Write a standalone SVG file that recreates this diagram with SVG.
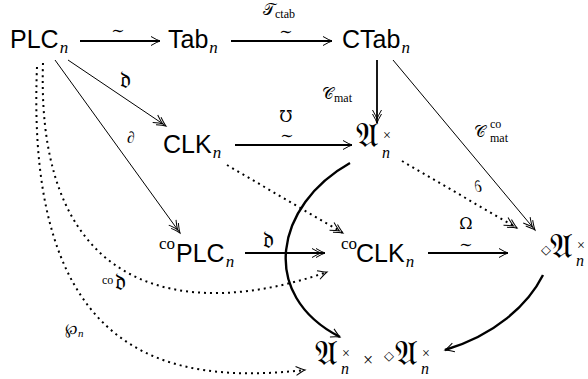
<svg xmlns="http://www.w3.org/2000/svg" width="588" height="379" viewBox="0 0 588 379">
<style>
.nd{font-family:"Liberation Sans","DejaVu Sans",sans-serif;font-size:25px;fill:#000}
.mi{font-family:"Liberation Serif","DejaVu Serif",serif;font-style:italic;fill:#000}
.rm{font-family:"Liberation Serif","DejaVu Serif",serif;fill:#000}
.fk{font-family:"DejaVu Serif","Noto Sans",serif;fill:#000}
.lb{font-family:"DejaVu Serif","Liberation Serif",serif;fill:#000}
.thk{stroke:#000;stroke-width:1.8;fill:none}
.thn{stroke:#000;stroke-width:1;fill:none}
.dot{stroke:#000;stroke-width:2;fill:none;stroke-dasharray:2 4}
.crv{stroke:#000;stroke-width:2.4;fill:none}
</style>
<defs>
<marker id="h1" markerUnits="userSpaceOnUse" orient="auto" refX="0" refY="0" markerWidth="20" markerHeight="20" viewBox="-15 -10 20 20" overflow="visible">
<path d="M-9,-4.5 Q-3,-1 0,0 Q-3,1 -9,4.5" fill="none" stroke="#000" stroke-width="1" stroke-dasharray="none"/>
</marker>
<marker id="h2" markerUnits="userSpaceOnUse" orient="auto" refX="0" refY="0" markerWidth="20" markerHeight="20" viewBox="-15 -10 20 20" overflow="visible">
<path d="M-9,-4.5 Q-3,-1 0,0 Q-3,1 -9,4.5 M-13,-4.5 Q-7,-1 -4,0 Q-7,1 -13,4.5" fill="none" stroke="#000" stroke-width="1" stroke-dasharray="none"/>
</marker>
</defs>

<g id="connectors">
<path class="thk" d="M80,41 H160" marker-end="url(#h1)"/>
<path class="thk" d="M231,41 H332" marker-end="url(#h1)"/>
<path class="thk" d="M377,60 V123" marker-end="url(#h2)"/>
<path class="thn" d="M393,60 L535,230" marker-end="url(#h2)"/>
<path class="thn" d="M68,60 L166,126" marker-end="url(#h2)"/>
<path class="thn" d="M55,60 L180,233" marker-end="url(#h2)"/>
<path class="thk" d="M235,145 H352" marker-end="url(#h1)"/>
<path class="dot" d="M227,165 L343,233" marker-end="url(#h2)"/>
<path class="dot" d="M402,161 L517,228" marker-end="url(#h2)"/>
<path class="thk" d="M245,253 H325" marker-end="url(#h2)"/>
<path class="thk" d="M428,253 H508" marker-end="url(#h1)"/>
<path class="crv" d="M350,163 C275,205 258,295 340,337" marker-end="url(#h1)"/>
<path class="crv" d="M543,275 C528,305 495,335 445,350" marker-end="url(#h1)"/>
<path class="dot" d="M43,63 C35,300 190,320 327,272" marker-end="url(#h1)"/>
<path class="dot" d="M37,67 C25,360 170,385 305,370" marker-end="url(#h1)"/>

<text class="lb" x="118" y="36" font-size="16" text-anchor="middle">∼</text>
<text class="lb" x="263" y="15" font-size="16">𝒯<tspan class="rm" font-size="12" dy="3">ctab</tspan></text>
<text class="lb" x="286" y="37" font-size="16" text-anchor="middle">∼</text>
<text class="lb" x="322" y="99" font-size="16">𝒞<tspan class="rm" font-size="12" dy="3">mat</tspan></text>
<text class="lb" x="474" y="137" font-size="16">𝒞</text>
<text class="rm" x="490" y="128" font-size="12">co</text>
<text class="rm" x="490" y="142" font-size="12">mat</text>
<text class="fk" x="120" y="88" font-size="24">𝔡</text>
<text class="mi" x="127" y="143" font-size="16">∂</text>
<text class="lb" x="286" y="122" font-size="16" text-anchor="middle">℧</text>
<text class="lb" x="287" y="141" font-size="16" text-anchor="middle">∼</text>
<text class="mi" transform="translate(482,192) scale(-1,1)" font-size="16">∂</text>
<text class="fk" x="263" y="248" font-size="24">𝔡</text>
<text class="lb" x="466" y="229" font-size="16" text-anchor="middle">Ω</text>
<text class="lb" x="466" y="250" font-size="16" text-anchor="middle">∼</text>
<text class="rm" x="102" y="284" font-size="12">co<tspan class="fk" font-size="24" dx="2" dy="6">𝔡</tspan></text>
<text class="lb" x="65" y="334" font-size="15">℘<tspan class="mi" font-size="11" dy="3">n</tspan></text>
</g>

<g id="PLC">
<text class="nd" x="10" y="48">PLC<tspan class="mi" font-size="17" dx="1" dy="5">n</tspan></text>
</g>
<g id="Tab">
<text class="nd" x="168" y="48">Tab<tspan class="mi" font-size="17" dx="1" dy="5">n</tspan></text>
</g>
<g id="CTab">
<text class="nd" x="342" y="48">CTab<tspan class="mi" font-size="17" dx="1" dy="5">n</tspan></text>
</g>
<g id="CLK">
<text class="nd" x="163" y="153">CLK<tspan class="mi" font-size="17" dx="1" dy="5">n</tspan></text>
</g>
<g id="A">
<text class="fk" x="356" y="147" font-size="34">𝔄</text><text class="mi" x="382" y="158" font-size="16">n</text><text class="rm" x="383" y="140" font-size="14">×</text>
</g>
<g id="coPLC">
<text class="rm" x="159" y="249" font-size="17">co</text><text class="nd" x="176" y="262">PLC<tspan class="mi" font-size="17" dx="1" dy="5">n</tspan></text>
</g>
<g id="coCLK">
<text class="rm" x="341" y="249" font-size="17">co</text><text class="nd" x="356" y="262">CLK<tspan class="mi" font-size="17" dx="1" dy="5">n</tspan></text>
</g>
<g id="dA">
<text class="lb" x="541" y="254" font-size="13">◇</text><text class="fk" x="550" y="258" font-size="34">𝔄</text><text class="mi" x="576" y="266" font-size="16">n</text><text class="rm" x="577" y="250" font-size="14">×</text>
</g>
<g id="prod">
<text class="fk" x="315" y="365" font-size="34">𝔄</text><text class="mi" x="341" y="374" font-size="16">n</text><text class="rm" x="342" y="358" font-size="14">×</text>
<text class="rm" x="363" y="366" font-size="18">×</text>
<text class="lb" x="384" y="360" font-size="13">◇</text><text class="fk" x="395" y="365" font-size="34">𝔄</text><text class="mi" x="421" y="374" font-size="16">n</text><text class="rm" x="422" y="358" font-size="14">×</text>
</g>
</svg>
